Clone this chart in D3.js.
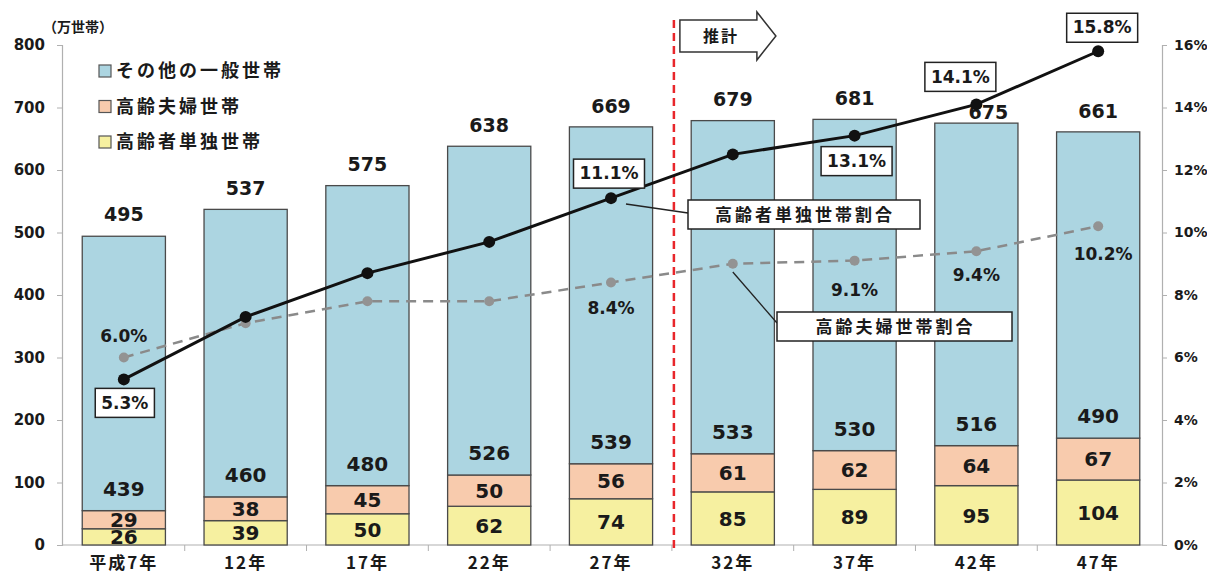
<!DOCTYPE html>
<html>
<head>
<meta charset="utf-8">
<script src="https://cdn.jsdelivr.net/npm/d3@7"></script>
<style>
  body { margin: 0; background: #fff; }
  text { font-family: "DejaVu Sans", "Noto Sans CJK JP", sans-serif; font-weight: bold; fill: #1a1a1a; }
  .jp { font-family: "Noto Sans CJK JP", sans-serif; }
</style>
</head>
<body>
<svg id="chart" width="1207" height="577"></svg>
<script>
// data (万世帯 / %)
const categories = ["平成7年", "12年", "17年", "22年", "27年", "32年", "37年", "42年", "47年"];
const singleElderly = [26, 39, 50, 62, 74, 85, 89, 95, 104];
const elderlyCouple = [29, 38, 45, 50, 56, 61, 62, 64, 67];
const otherHouseholds = [439, 460, 480, 526, 539, 533, 530, 516, 490];
const totals = [495, 537, 575, 638, 669, 679, 681, 675, 661];
const singleRate = [5.3, 7.3, 8.7, 9.7, 11.1, 12.5, 13.1, 14.1, 15.8];
const coupleRate = [6.0, 7.1, 7.8, 7.8, 8.4, 9.0, 9.1, 9.4, 10.2];
const singleRateLabels = ["5.3%", null, null, null, "11.1%", null, "13.1%", "14.1%", "15.8%"];
const coupleRateLabels = ["6.0%", null, null, null, "8.4%", null, "9.1%", "9.4%", "10.2%"];
const leftTicks = [0, 100, 200, 300, 400, 500, 600, 700, 800];
const rightTicks = [0, 2, 4, 6, 8, 10, 12, 14, 16];
const seriesNames = ["高齢者単独世帯", "高齢夫婦世帯", "その他の一般世帯"];

const colors = ["#f6f0a0", "#f8cbad", "#acd5e1"];

// label nudges, kept apart from data
const singleLabelPos = { 0: [1, 23], 4: [-2, -25], 6: [2, 25], 7: [-16, -28], 8: [4, -24] };
const coupleLabelPos = { 0: [0, -22], 4: [0, 25], 6: [0, 29], 7: [0, 24], 8: [5, 28] };
const totalLabelPos = { 7: [12, -11] };

const svg = d3.select("#chart");
const pLeft = 62, pRight = 1159, pTop = 45, pBottom = 545;

const x = d3.scaleBand().domain(categories).range([pLeft + 1, pRight]).paddingInner(0.317).paddingOuter(0.158);
const y = d3.scaleLinear().domain([0, 800]).range([pBottom, pTop]);
const y2 = d3.scaleLinear().domain([0, 16]).range([pBottom, pTop]);

const rows = categories.map((c, i) => ({ cat: c, s: singleElderly[i], c2: elderlyCouple[i], o: otherHouseholds[i] }));
const stack = d3.stack().keys(["s", "c2", "o"]);
const layers = stack(rows);

// axes
const axL = svg.append("g").attr("transform", `translate(${pLeft},0)`)
  .call(d3.axisLeft(y).tickValues(leftTicks).tickSize(5).tickPadding(12));
const axR = svg.append("g").attr("transform", `translate(${pRight + 3},0)`)
  .call(d3.axisRight(y2).tickValues(rightTicks).tickSize(5).tickPadding(7).tickFormat(d => d + "%"));
const axB = svg.append("g").attr("transform", `translate(0,${pBottom})`)
  .call(d3.axisBottom(x).tickSize(0).tickPadding(12));
[axL, axR, axB].forEach(g => {
  g.select(".domain").attr("stroke", "#b0b0b0").attr("stroke-width", 1.2);
  g.selectAll(".tick line").attr("stroke", "#b0b0b0");
});
axL.selectAll("text").style("font-size", "15px").attr("fill", "#1a1a1a");
axR.selectAll("text").style("font-size", "14px").attr("fill", "#1a1a1a");
axB.selectAll("text").attr("class", "jp").style("font-size", "17px").attr("fill", "#1a1a1a").attr("letter-spacing", "2px");
axB.select(".domain").attr("d", `M${pLeft},0H${pRight + 3}`);
// small ticks between categories
const step = x.step();
axB.selectAll(".sep").data(d3.range(1, categories.length)).enter().append("line")
  .attr("x1", i => x(categories[i]) - (step - x.bandwidth()) / 2)
  .attr("x2", i => x(categories[i]) - (step - x.bandwidth()) / 2)
  .attr("y1", 0).attr("y2", 6).attr("stroke", "#b0b0b0");

svg.append("text").attr("class", "jp").attr("x", 43).attr("y", 32).style("font-size", "14px").text("（万世帯）");

// bars
svg.append("g").selectAll("g").data(layers).enter().append("g")
  .attr("fill", (d, i) => colors[i])
  .selectAll("rect").data(d => d).enter().append("rect")
  .attr("x", d => x(d.data.cat))
  .attr("y", d => y(d[1]))
  .attr("width", x.bandwidth())
  .attr("height", d => y(d[0]) - y(d[1]))
  .attr("stroke", "#4a4a4a").attr("stroke-width", 1.3);

// segment labels
const segLabels = svg.append("g").style("font-size", "20px").attr("text-anchor", "middle");
layers.forEach((layer, li) => {
  segLabels.selectAll(".l" + li).data(layer).enter().append("text")
    .attr("x", d => x(d.data.cat) + x.bandwidth() / 2)
    .attr("y", d => li === 2 ? y(d[0]) - 22 : (y(d[0]) + y(d[1])) / 2)
    .attr("dy", "0.36em")
    .text(d => d[1] - d[0]);
});

// totals
svg.append("g").style("font-size", "19px").attr("text-anchor", "middle")
  .selectAll("text").data(totals).enter().append("text")
  .attr("x", (d, i) => x(categories[i]) + x.bandwidth() / 2 + (totalLabelPos[i] ? totalLabelPos[i][0] : 0))
  .attr("y", (d, i) => y(d) + (totalLabelPos[i] ? totalLabelPos[i][1] : -21))
  .attr("dy", "0.36em")
  .text(d => d);

// projection divider
const divX = x(categories[5]) - (step - x.bandwidth()) / 2 + 2;
svg.append("line").attr("x1", divX).attr("x2", divX).attr("y1", 20).attr("y2", 550)
  .attr("stroke", "#e8262b").attr("stroke-width", 2.5).attr("stroke-dasharray", "8,5");

// arrow 推計
const ax0 = divX + 6;
svg.append("path")
  .attr("d", `M${ax0},20H${ax0 + 77}V12L${ax0 + 96},36L${ax0 + 77},60V52H${ax0}Z`)
  .attr("fill", "#fff").attr("stroke", "#333").attr("stroke-width", 1.5);
svg.append("text").attr("class", "jp").attr("x", ax0 + 41).attr("y", 36).attr("dy", "0.36em")
  .attr("text-anchor", "middle").style("font-size", "16px").attr("letter-spacing", "2px").text("推計");

// lines
const cx = i => x(categories[i]) + x.bandwidth() / 2;
const line = d3.line().x((d, i) => cx(i)).y(d => y2(d));

svg.append("path").datum(coupleRate).attr("d", line).attr("fill", "none")
  .attr("stroke", "#8a8a8a").attr("stroke-width", 2.5).attr("stroke-dasharray", "10,7");
svg.append("g").selectAll("circle").data(coupleRate).enter().append("circle")
  .attr("cx", (d, i) => cx(i)).attr("cy", d => y2(d)).attr("r", 5).attr("fill", "#939393");

svg.append("path").datum(singleRate).attr("d", line).attr("fill", "none")
  .attr("stroke", "#111").attr("stroke-width", 3);
svg.append("g").selectAll("circle").data(singleRate).enter().append("circle")
  .attr("cx", (d, i) => cx(i)).attr("cy", d => y2(d)).attr("r", 6).attr("fill", "#111");

// rate labels
coupleRate.forEach((v, i) => {
  if (!coupleRateLabels[i]) return;
  const p = coupleLabelPos[i];
  svg.append("text").attr("x", cx(i) + p[0]).attr("y", y2(v) + p[1]).attr("dy", "0.36em")
    .attr("text-anchor", "middle").style("font-size", "17px").text(coupleRateLabels[i]);
});
singleRate.forEach((v, i) => {
  if (!singleRateLabels[i]) return;
  const p = singleLabelPos[i];
  const g = svg.append("g").attr("transform", `translate(${cx(i) + p[0]},${y2(v) + p[1]})`);
  const t = g.append("text").attr("dy", "0.36em").attr("text-anchor", "middle")
    .style("font-size", "17px").text(singleRateLabels[i]);
  const bb = t.node().getBBox();
  g.insert("rect", "text").attr("x", bb.x - 6).attr("y", -14).attr("width", bb.width + 12).attr("height", 29)
    .attr("fill", "#fff").attr("stroke", "#222").attr("stroke-width", 1.5);
});

// callouts
function callout(text, bx, by, bw, lx, ly, ex, ey) {
  svg.append("line").attr("x1", lx).attr("y1", ly).attr("x2", ex).attr("y2", ey)
    .attr("stroke", "#222").attr("stroke-width", 1.3);
  svg.append("rect").attr("x", bx).attr("y", by).attr("width", bw).attr("height", 29)
    .attr("fill", "#fff").attr("stroke", "#222").attr("stroke-width", 1.5);
  svg.append("text").attr("class", "jp").attr("x", bx + bw / 2 + 1).attr("y", by + 15).attr("dy", "0.36em")
    .attr("text-anchor", "middle").style("font-size", "17px").attr("letter-spacing", "3px").text(text);
}
callout("高齢者単独世帯割合", 688, 200, 232, cx(4) + 15, 204, 688, 213);
callout("高齢夫婦世帯割合", 777, 312, 235, cx(5), 272, 777, 323);

// legend
const legend = svg.append("g").attr("transform", "translate(99,71)");
[2, 1, 0].forEach((si, k) => {
  const g = legend.append("g").attr("transform", `translate(0,${k * 35.5})`);
  g.append("rect").attr("x", 0).attr("y", -6).attr("width", 12).attr("height", 12)
    .attr("fill", colors[si]).attr("stroke", "#555").attr("stroke-width", 1.2);
  g.append("text").attr("class", "jp").attr("x", 17).attr("dy", "0.36em")
    .style("font-size", "18px").attr("letter-spacing", "3px").text(seriesNames[si]);
});
</script>
</body>
</html>
